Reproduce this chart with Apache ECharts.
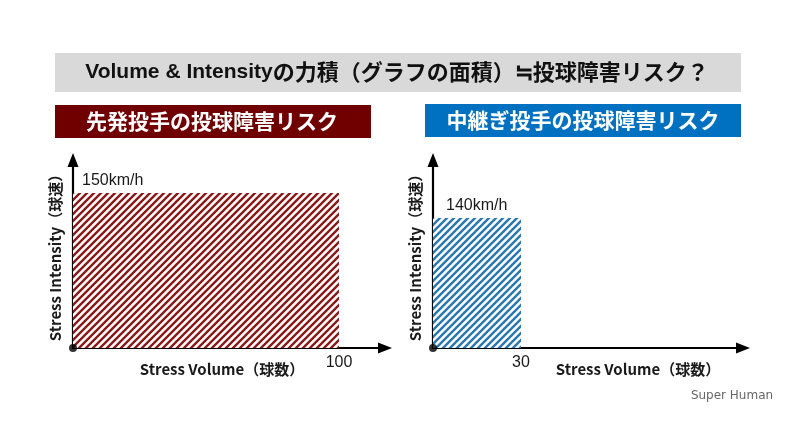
<!DOCTYPE html>
<html>
<head>
<meta charset="utf-8">
<script src="https://cdn.jsdelivr.net/npm/echarts@6/dist/echarts.min.js"></script>
<style>
html,body{margin:0;padding:0;background:#fff;}
#main{width:800px;height:443px;}
</style>
</head>
<body>
<div id="main"></div>
<script>
// ---- data ----
const mainTitleLatin = 'Volume & Intensity';
const mainTitleJa = 'の力積（グラフの面積）≒投球障害リスク？';
const panelTitles = ['先発投手の投球障害リスク', '中継ぎ投手の投球障害リスク'];
const volumes = [100, 30];          // Stress Volume（球数）
const speeds = [150, 140];          // Stress Intensity（球速） km/h
const speedLabels = ['150km/h', '140km/h'];
const volumeTicks = [[100], [30]];
const xAxisName = 'Stress Volume（球数）';
const yAxisName = 'Stress Intensity（球速）';
const watermark = 'Super Human';

// ---- styles ----
const hatchColors = ['#8a1a1a', '#2a78ad'];
const headerColors = ['#700000', '#0070c0'];
const jaFont = '"Noto Sans CJK JP", "Noto Sans", sans-serif';

function makeHatch(color) {
  const s = 7;
  const c = document.createElement('canvas');
  c.width = s; c.height = s;
  const ctx = c.getContext('2d');
  ctx.fillStyle = '#ffffff';
  ctx.fillRect(0, 0, s, s);
  ctx.strokeStyle = color;
  ctx.lineWidth = 2.4;
  ctx.beginPath();
  ctx.moveTo(0, s); ctx.lineTo(s, 0);
  ctx.moveTo(-1, 1); ctx.lineTo(1, -1);
  ctx.moveTo(s - 1, s + 1); ctx.lineTo(s + 1, s - 1);
  ctx.stroke();
  return c;
}

const chart = echarts.init(document.getElementById('main'), null, {renderer: 'canvas'});

const grids = [
  {left: 73, top: 160, width: 312, height: 188},
  {left: 433, top: 160, width: 310, height: 188}
];
const xMax = [117.3, 105.7];
const yMax = [182, 202.5];

const xAxes = [], yAxes = [], series = [];
for (let i = 0; i < 2; i++) {
  xAxes.push({
    type: 'value', gridIndex: i, min: 0, max: xMax[i],
    axisLine: {show: true, onZero: false, lineStyle: {color: '#000', width: 2.2},
      symbol: ['none', 'triangle'], symbolSize: [11, 14]},
    axisTick: {show: false},
    splitLine: {show: false},
    axisLabel: {show: true, customValues: volumeTicks[i], margin: 7,
      fontSize: 16, color: '#1a1a1a', fontFamily: '"Liberation Sans", Arial, sans-serif'}
  });
  yAxes.push({
    type: 'value', gridIndex: i, min: 0, max: yMax[i],
    name: yAxisName, nameLocation: 'middle', nameRotate: 90, nameGap: 10,
    nameTextStyle: {fontSize: 15, fontWeight: 'bold', color: '#1a1a1a', fontFamily: jaFont},
    axisLine: {show: true, onZero: false, lineStyle: {color: '#000', width: 2.2},
      symbol: ['none', 'triangle'], symbolSize: [11, 14]},
    axisTick: {show: false},
    splitLine: {show: false},
    axisLabel: {show: false}
  });
  const pattern = makeHatch(hatchColors[i]);
  series.push({
    type: 'custom', xAxisIndex: i, yAxisIndex: i,
    data: [[volumes[i], speeds[i], speedLabels[i]]],
    renderItem: function (params, api) {
      const p0 = api.coord([0, 0]);
      const p1 = api.coord([api.value(0), api.value(1)]);
      return {
        type: 'group',
        children: [
          {type: 'rect',
            shape: {x: p0[0], y: p1[1], width: p1[0] - p0[0], height: p0[1] - p1[1]},
            style: {fill: {image: pattern, repeat: 'repeat'}}},
          {type: 'text',
            x: p0[0] + 9 + i * 4, y: p1[1] - 12,
            style: {text: speedLabels[i], fill: '#1a1a1a', fontSize: 16,
              fontFamily: '"Liberation Sans", Arial, sans-serif',
              align: 'left', verticalAlign: 'middle'}}
        ]
      };
    },
    z: 1
  });
  series.push({
    type: 'scatter', xAxisIndex: i, yAxisIndex: i,
    data: [[0, 0]], symbol: 'circle', symbolSize: 8,
    itemStyle: {color: '#000'}, z: 5, silent: true
  });
}

const xNamePos = [222, 638];
const graphic = [
  {type: 'rect', left: 55, top: 53, shape: {width: 686, height: 39}, style: {fill: '#d9d9d9'}},
  {type: 'text', x: 397, y: 72,
    style: {
      text: '{a|' + mainTitleLatin + '}{b|' + mainTitleJa + '}',
      align: 'center', verticalAlign: 'middle',
      rich: {
        a: {fontFamily: '"Liberation Sans Narrow", "Liberation Sans", sans-serif', fontWeight: 'bold', fontSize: 21, fill: '#111'},
        b: {fontFamily: jaFont, fontWeight: 'bold', fontSize: 22, fill: '#111'}
      }
    }},
  {type: 'rect', left: 55, top: 105, shape: {width: 316, height: 33}, style: {fill: headerColors[0]}},
  {type: 'rect', left: 425, top: 104, shape: {width: 316, height: 33}, style: {fill: headerColors[1]}},
  {type: 'text', x: 212, y: 121, style: {text: panelTitles[0], fill: '#fff', fontSize: 21, fontWeight: 'bold', fontFamily: jaFont, align: 'center', verticalAlign: 'middle'}},
  {type: 'text', x: 583, y: 120, style: {text: panelTitles[1], fill: '#fff', fontSize: 21, fontWeight: 'bold', fontFamily: jaFont, align: 'center', verticalAlign: 'middle'}},
  {type: 'text', x: xNamePos[0], y: 369, style: {text: xAxisName, fill: '#1a1a1a', fontSize: 15, fontWeight: 'bold', fontFamily: jaFont, align: 'center', verticalAlign: 'middle'}},
  {type: 'text', x: xNamePos[1], y: 369, style: {text: xAxisName, fill: '#1a1a1a', fontSize: 15, fontWeight: 'bold', fontFamily: jaFont, align: 'center', verticalAlign: 'middle'}},
  {type: 'text', x: 732, y: 396, style: {text: watermark, fill: '#666', fontSize: 12, fontFamily: '"DejaVu Sans", sans-serif', align: 'center', verticalAlign: 'middle'}}
];

chart.setOption({
  backgroundColor: '#fff',
  animation: false,
  grid: grids,
  xAxis: xAxes,
  yAxis: yAxes,
  series: series,
  graphic: graphic
});
</script>
</body>
</html>
